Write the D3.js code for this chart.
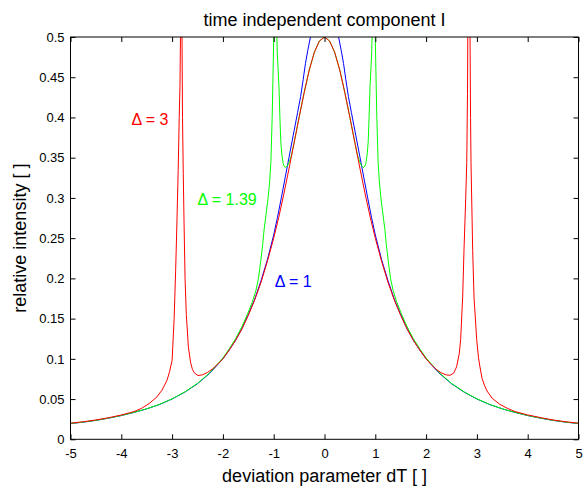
<!DOCTYPE html>
<html>
<head>
<meta charset="utf-8">
<script src="https://cdn.jsdelivr.net/npm/d3@7"></script>
<style>
  html, body { margin: 0; padding: 0; background: #fff; }
  text { font-family: "Liberation Sans", Arial, Helvetica, sans-serif; fill: #000; }
</style>
</head>
<body>
<div id="chart"></div>
<script>
// deviation parameter dT vs relative intensity
const blueSeries = [
  [-5, 0.0196], [-4.75, 0.0213], [-4.5, 0.0235], [-4.25, 0.0263], [-4, 0.0295], [-3.75, 0.0334],
  [-3.5, 0.0378], [-3.25, 0.0432], [-3, 0.0501], [-2.75, 0.0586], [-2.5, 0.0691], [-2.25, 0.0826],
  [-2, 0.1], [-1.875, 0.111], [-1.75, 0.123], [-1.625, 0.138], [-1.5, 0.155], [-1.375, 0.174],
  [-1.25, 0.197], [-1.125, 0.223], [-1.0, 0.254], [-0.925, 0.276], [-0.85, 0.3], [-0.775, 0.325],
  [-0.7, 0.35], [-0.6, 0.383], [-0.53, 0.406], [-0.47, 0.426], [-0.42, 0.447], [-0.375, 0.467],
  [-0.33, 0.483], [-0.28, 0.499], [-0.2, 0.515], [-0.1, 0.525], [0, 0.528], [0.1, 0.525],
  [0.2, 0.515], [0.28, 0.499], [0.33, 0.483], [0.375, 0.467], [0.42, 0.447], [0.47, 0.426],
  [0.53, 0.406], [0.6, 0.383], [0.7, 0.35], [0.775, 0.325], [0.85, 0.3], [0.925, 0.276],
  [1.0, 0.254], [1.125, 0.223], [1.25, 0.197], [1.375, 0.174], [1.5, 0.155], [1.625, 0.138],
  [1.75, 0.123], [1.875, 0.111], [2, 0.1], [2.25, 0.0826], [2.5, 0.0691], [2.75, 0.0586],
  [3, 0.0501], [3.25, 0.0432], [3.5, 0.0378], [3.75, 0.0334], [4, 0.0295], [4.25, 0.0263],
  [4.5, 0.0235], [4.75, 0.0213], [5, 0.0196]
];

const greenSeries = [
  [-5, 0.0197], [-4.75, 0.0214], [-4.5, 0.0236], [-4.25, 0.0264], [-4, 0.0296], [-3.75, 0.0335],
  [-3.5, 0.0379], [-3.25, 0.0434], [-3, 0.0503], [-2.75, 0.0589], [-2.5, 0.0695], [-2.25, 0.0832],
  [-2, 0.101], [-1.875, 0.1125], [-1.75, 0.125], [-1.625, 0.14], [-1.5, 0.158], [-1.42, 0.171],
  [-1.35, 0.185], [-1.3, 0.2], [-1.26, 0.219], [-1.22, 0.24], [-1.19, 0.26], [-1.15, 0.28],
  [-1.11, 0.3], [-1.08, 0.32], [-1.055, 0.345], [-1.03, 0.4], [-1.008, 0.47], [-0.994, 0.52],
  [-0.975, 0.75], [-0.955, 0.75], [-0.941, 0.51], [-0.929, 0.48], [-0.896, 0.438],
  [-0.876, 0.397], [-0.86, 0.37], [-0.843, 0.356], [-0.815, 0.343], [-0.79, 0.339],
  [-0.76, 0.338], [-0.73, 0.34], [-0.69, 0.345], [-0.65, 0.353], [-0.6, 0.368], [-0.5, 0.4],
  [-0.4, 0.431], [-0.3, 0.459], [-0.2, 0.481], [-0.1, 0.495], [0, 0.5], [0.1, 0.495],
  [0.2, 0.481], [0.3, 0.459], [0.4, 0.431], [0.5, 0.4], [0.6, 0.368], [0.65, 0.353],
  [0.69, 0.345], [0.73, 0.34], [0.76, 0.338], [0.79, 0.339], [0.815, 0.343], [0.843, 0.356],
  [0.86, 0.37], [0.876, 0.397], [0.896, 0.438], [0.929, 0.48], [0.941, 0.51], [0.955, 0.75],
  [0.975, 0.75], [0.994, 0.52], [1.008, 0.47], [1.03, 0.4], [1.055, 0.345], [1.08, 0.32],
  [1.11, 0.3], [1.15, 0.28], [1.19, 0.26], [1.22, 0.24], [1.26, 0.219], [1.3, 0.2],
  [1.35, 0.185], [1.42, 0.171], [1.5, 0.158], [1.625, 0.14], [1.75, 0.125], [1.875, 0.1125],
  [2, 0.101], [2.25, 0.0832], [2.5, 0.0695], [2.75, 0.0589], [3, 0.0503], [3.25, 0.0434],
  [3.5, 0.0379], [3.75, 0.0335], [4, 0.0296], [4.25, 0.0264], [4.5, 0.0236], [4.75, 0.0214],
  [5, 0.0197]
];

const redSeries = [
  [-5, 0.02], [-4.75, 0.0218], [-4.5, 0.024], [-4.25, 0.0268], [-4, 0.0302], [-3.75, 0.0345],
  [-3.6, 0.0385], [-3.45, 0.0445], [-3.3, 0.0526], [-3.2, 0.061], [-3.1, 0.0734], [-3.05, 0.084],
  [-3.0, 0.098], [-2.96, 0.15], [-2.93, 0.21], [-2.905, 0.27], [-2.88, 0.335], [-2.86, 0.4],
  [-2.845, 0.44], [-2.835, 0.5], [-2.825, 0.7], [-2.815, 0.7], [-2.805, 0.5], [-2.795, 0.4],
  [-2.78, 0.33], [-2.765, 0.27], [-2.745, 0.2], [-2.72, 0.155], [-2.68, 0.115], [-2.635, 0.095],
  [-2.6, 0.087], [-2.56, 0.0825], [-2.49, 0.0792], [-2.4, 0.0802], [-2.3, 0.0832], [-2.2, 0.0878],
  [-2.1, 0.0935], [-2, 0.1], [-1.875, 0.111], [-1.75, 0.123], [-1.625, 0.137], [-1.5, 0.154],
  [-1.375, 0.173], [-1.25, 0.195], [-1.125, 0.221], [-1, 0.25], [-0.9, 0.276], [-0.8, 0.305],
  [-0.7, 0.336], [-0.6, 0.368], [-0.5, 0.4], [-0.4, 0.431], [-0.3, 0.459], [-0.2, 0.481],
  [-0.1, 0.495], [0, 0.5], [0.1, 0.495], [0.2, 0.481], [0.3, 0.459], [0.4, 0.431], [0.5, 0.4],
  [0.6, 0.368], [0.7, 0.336], [0.8, 0.305], [0.9, 0.276], [1, 0.25], [1.125, 0.221],
  [1.25, 0.195], [1.375, 0.173], [1.5, 0.154], [1.625, 0.137], [1.75, 0.123], [1.875, 0.111],
  [2, 0.1], [2.1, 0.093], [2.2, 0.087], [2.3, 0.0825], [2.4, 0.0800], [2.47, 0.0796],
  [2.54, 0.082], [2.6, 0.09], [2.654, 0.107], [2.68, 0.124], [2.72, 0.177], [2.746, 0.235],
  [2.78, 0.3], [2.8, 0.344], [2.815, 0.43], [2.825, 0.55], [2.835, 0.7], [2.855, 0.7],
  [2.865, 0.5], [2.875, 0.4], [2.884, 0.344], [2.917, 0.235], [2.943, 0.177], [2.996, 0.124],
  [3.03, 0.102], [3.06, 0.09], [3.1, 0.076], [3.15, 0.067], [3.2, 0.06], [3.3, 0.051],
  [3.45, 0.0435], [3.6, 0.0385], [3.75, 0.0345], [4, 0.0303], [4.25, 0.027], [4.5, 0.024],
  [4.75, 0.0218], [5, 0.02]
];

const seriesColors = ["#0000ff", "#00ff00", "#ff0000"];

const xTicks = [-5, -4, -3, -2, -1, 0, 1, 2, 3, 4, 5];
const xTickLabels = ["-5", "-4", "-3", "-2", "-1", "0", "1", "2", "3", "4", "5"];
const yTicks = [0, 0.05, 0.1, 0.15, 0.2, 0.25, 0.3, 0.35, 0.4, 0.45, 0.5];
const yTickLabels = ["0", "0.05", "0.1", "0.15", "0.2", "0.25", "0.3", "0.35", "0.4", "0.45", "0.5"];

// text annotations: [dT, intensity, label]
const annotations = [
  [-3.8, 0.398, "\u0394 = 3"],
  [-2.5, 0.298, "\u0394 = 1.39"],
  [-0.98, 0.197, "\u0394 = 1"]
];
const annotationColors = ["#ff0000", "#00ff00", "#0000ff"];

const W = 584, H = 487;
const margin = {top: 37, right: 5.5, bottom: 47.7, left: 70.5};
const width = W - margin.left - margin.right;
const height = H - margin.top - margin.bottom;

const x = d3.scaleLinear().domain([-5, 5]).range([0, width]);
const y = d3.scaleLinear().domain([0, 0.5]).range([height, 0]);

const svg = d3.select('#chart')
  .append('svg')
  .attr('width', W)
  .attr('height', H)
  .style('display', 'block');

const g = svg.append('g')
  .attr('transform', `translate(${margin.left},${margin.top})`);

g.append('defs').append('clipPath')
  .attr('id', 'plotclip')
  .append('rect')
  .attr('width', width)
  .attr('height', height);

// curves
const line = d3.line()
  .x(d => x(d[0]))
  .y(d => y(d[1]));

const curves = g.append('g').attr('clip-path', 'url(#plotclip)');
[blueSeries, greenSeries, redSeries].forEach((s, i) => {
  curves.append('path')
    .datum(s)
    .attr('d', line)
    .attr('fill', 'none')
    .attr('stroke', seriesColors[i])
    .attr('stroke-width', 1);
});

// axes with inward ticks on all four sides
const fmtX = d => xTickLabels[xTicks.indexOf(d)];
const fmtY = d => yTickLabels[yTicks.indexOf(d)];

const axisStyle = sel => {
  sel.select('.domain').remove();
  sel.selectAll('line').attr('stroke', '#000');
  sel.selectAll('text').attr('font-size', 13).attr('font-family', '"Liberation Sans", Arial, sans-serif').attr('fill', '#000');
};

g.append('g')
  .attr('transform', `translate(0,${height})`)
  .call(d3.axisBottom(x).tickValues(xTicks).tickFormat(fmtX).tickSizeInner(-5).tickSizeOuter(0).tickPadding(9))
  .call(axisStyle);

g.append('g')
  .call(d3.axisLeft(y).tickValues(yTicks).tickFormat(fmtY).tickSizeInner(-5).tickSizeOuter(0).tickPadding(6))
  .call(axisStyle);

g.append('g')
  .call(d3.axisTop(x).tickValues(xTicks).tickFormat('').tickSizeInner(-5).tickSizeOuter(0))
  .call(axisStyle);

g.append('g')
  .attr('transform', `translate(${width},0)`)
  .call(d3.axisRight(y).tickValues(yTicks).tickFormat('').tickSizeInner(-5).tickSizeOuter(0))
  .call(axisStyle);

g.append('rect')
  .attr('width', width)
  .attr('height', height)
  .attr('fill', 'none')
  .attr('stroke', '#000')
  .attr('stroke-width', 1);

// annotations
annotations.forEach((a, i) => {
  g.append('text')
    .attr('x', x(a[0]))
    .attr('y', y(a[1]))
    .attr('dy', '0.36em')
    .attr('font-size', 16)
    .style('fill', annotationColors[i])
    .text(a[2]);
});

// title and axis labels
svg.append('text')
  .attr('x', margin.left + width / 2)
  .attr('y', 26)
  .attr('text-anchor', 'middle')
  .attr('font-size', 18)
  .text('time independent component I');

svg.append('text')
  .attr('x', margin.left + width / 2)
  .attr('y', 482)
  .attr('text-anchor', 'middle')
  .attr('font-size', 18)
  .text('deviation parameter dT [ ]');

svg.append('text')
  .attr('transform', `translate(26,${margin.top + height / 2}) rotate(-90)`)
  .attr('text-anchor', 'middle')
  .attr('font-size', 18)
  .text('relative intensity [ ]');
</script>
</body>
</html>
